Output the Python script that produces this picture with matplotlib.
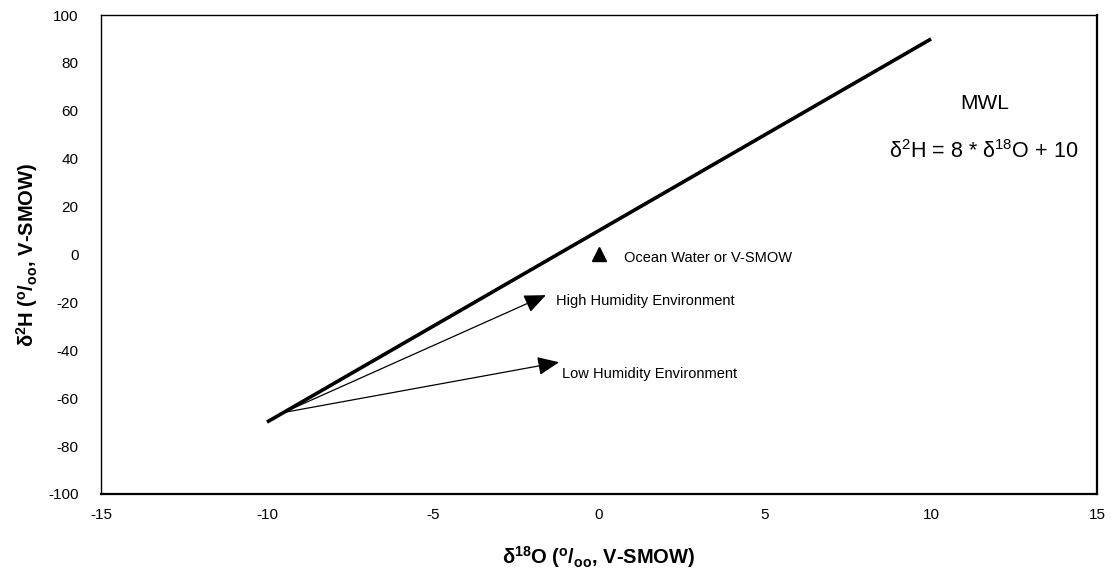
import numpy as np
import matplotlib
matplotlib.use("Agg")
import matplotlib.pyplot as plt

plt.rcParams["font.family"] = ["Liberation Sans", "DejaVu Sans"]
plt.rcParams["mathtext.default"] = "regular"
plt.rcParams["axes.unicode_minus"] = False

# meteoric water line: d2H = 8 * d18O + 10
mwl_x = np.array([-10, 10])
mwl_slope = 8
mwl_intercept = 10

# ocean water standard
smow_x = [0]
smow_y = [0]

# evaporation trends starting on the MWL
evap_start = (-9.5, -66)
high_humidity_end = (-1.6, -17)
low_humidity_end = (-1.2, -45)

x_ticks = [-15, -10, -5, 0, 5, 10, 15]
y_ticks = [-100, -80, -60, -40, -20, 0, 20, 40, 60, 80, 100]

fig = plt.figure(figsize=(11.13, 5.77), dpi=100)
ax = fig.add_axes([0.0907, 0.144, 0.895, 0.830])

ax.plot(mwl_x, mwl_slope * mwl_x + mwl_intercept, color="black", lw=2.6,
        solid_capstyle="butt")
ax.plot(smow_x, smow_y, marker="^", color="black", ms=10, ls="none")

arrow = dict(arrowstyle="-|>,head_length=0.7,head_width=0.3",
             mutation_scale=19, lw=0.9, color="black", shrinkA=0, shrinkB=0)
ax.annotate("", xy=high_humidity_end, xytext=evap_start, arrowprops=arrow)
ax.annotate("", xy=low_humidity_end, xytext=evap_start, arrowprops=arrow)

ax.text(-1.3, -19.5, "High Humidity Environment", fontsize=10.5, va="center")
ax.text(-1.1, -50, "Low Humidity Environment", fontsize=10.5, va="center")
ax.text(0.75, -1.5, "Ocean Water or V-SMOW", fontsize=10.5, va="center")

ax.text(11.6, 63, "MWL", fontsize=15, ha="center", va="center")
ax.text(11.6, 43, r"$\delta^{2}$H = 8 * $\delta^{18}$O + 10", fontsize=15.5,
        ha="center", va="center")

ax.set_xlim(-15, 15)
ax.set_ylim(-100, 100)
ax.set_xticks(x_ticks)
ax.set_yticks(y_ticks)
ax.tick_params(length=0, labelsize=11, pad=10)
ax.tick_params(axis="y", pad=16)

for side in ["top", "left"]:
    ax.spines[side].set_linewidth(1.0)
for side in ["bottom", "right"]:
    ax.spines[side].set_linewidth(1.6)

ax.set_xlabel(r"$\delta^{18}$O ($^{o}$/$_{oo}$, V-SMOW)", fontsize=14.5,
              fontweight="bold", labelpad=16)
ax.set_ylabel(r"$\delta^{2}$H ($^{o}$/$_{oo}$, V-SMOW)", fontsize=14.5,
              fontweight="bold", labelpad=6)

fig.savefig("out.png", dpi=100)
